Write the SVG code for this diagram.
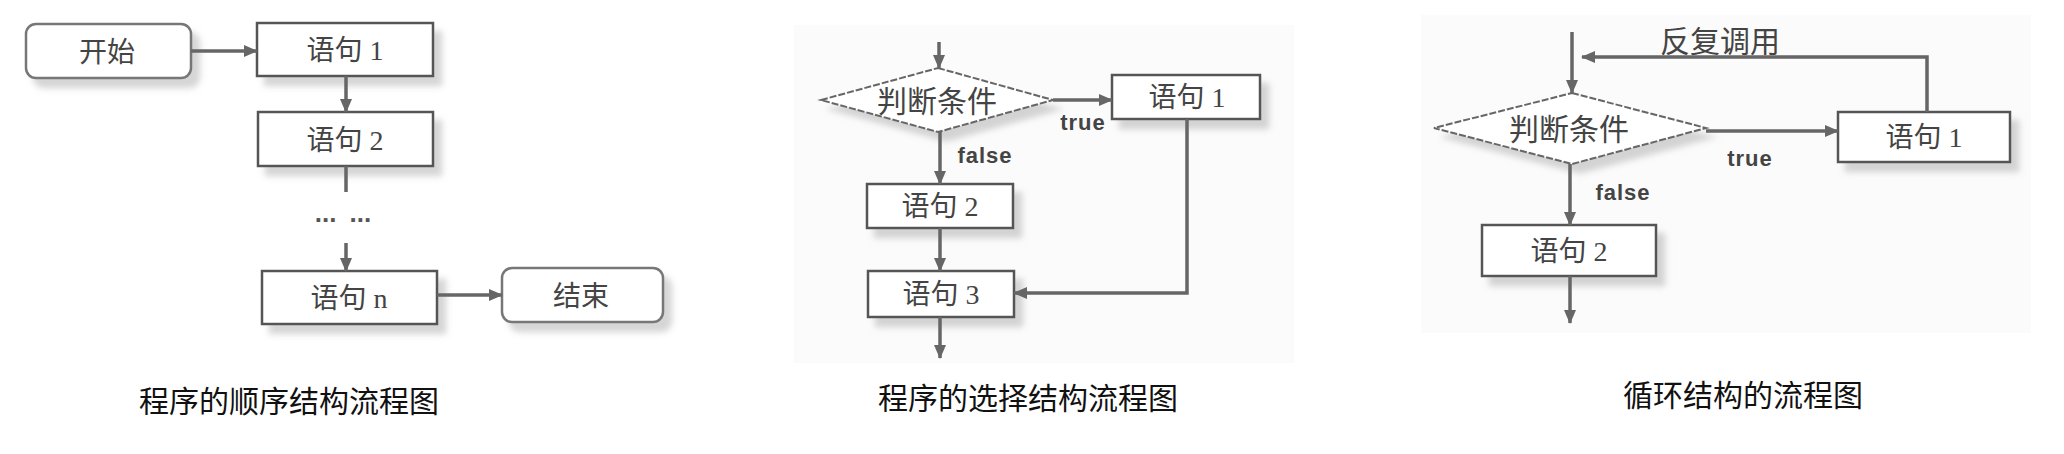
<svg xmlns="http://www.w3.org/2000/svg" width="2064" height="454" viewBox="0 0 2064 454">
<style>
.box{fill:#fff;stroke:#555;stroke-width:2.5}
.term{fill:#fff;stroke:#777;stroke-width:2.5}
.dia{fill:#fff;stroke:#666;stroke-width:2;stroke-dasharray:7 2}
.t{font-family:"Liberation Serif","Noto Sans CJK SC",serif;font-size:28px;fill:#444;text-anchor:middle;dominant-baseline:central}
.td{font-family:"Liberation Serif","Noto Sans CJK SC",serif;font-size:30px;fill:#444;text-anchor:middle;dominant-baseline:central}
.lbl{font-family:"Liberation Sans",Arial,sans-serif;font-size:22px;font-weight:bold;fill:#444;text-anchor:middle;dominant-baseline:central;letter-spacing:1px}
.cap{font-family:"Noto Sans CJK SC",sans-serif;font-size:30px;fill:#111;text-anchor:middle;dominant-baseline:central}
.ln{fill:none;stroke:#666;stroke-width:3.5}
.arr{marker-end:url(#ah)}
.bg{fill:#fbfbfb}
</style>
<defs>
<marker id="ah" markerUnits="userSpaceOnUse" markerWidth="14" markerHeight="12" refX="13" refY="6" orient="auto">
<path d="M0,0 L14,6 L0,12 z" fill="#666"/>
</marker>
<filter id="sh" x="-10%" y="-20%" width="130%" height="160%">
<feDropShadow dx="8" dy="9" stdDeviation="3" flood-color="#888" flood-opacity="0.35"/>
</filter>
</defs>
<rect width="2064" height="454" fill="#fff"/>
<rect class="bg" x="794" y="25" width="500" height="338"/>
<rect class="bg" x="1421" y="15" width="610" height="318"/>

<!-- Panel 1 -->
<g id="p1-start"><rect class="term" filter="url(#sh)" x="26" y="24" width="165" height="54" rx="10"/><text class="t" x="107" y="52">开始</text></g>
<g id="p1-s1"><rect class="box" filter="url(#sh)" x="257" y="23" width="176" height="53"/><text class="t" x="345" y="50">语句 1</text></g>
<g id="p1-s2"><rect class="box" filter="url(#sh)" x="258" y="112" width="175" height="54"/><text class="t" x="345" y="140">语句 2</text></g>
<g id="p1-dots"><text x="343" y="213" font-family="Liberation Sans,Arial,sans-serif" font-size="26" font-weight="bold" fill="#555" text-anchor="middle" dominant-baseline="central" word-spacing="6">... ...</text></g>
<g id="p1-sn"><rect class="box" filter="url(#sh)" x="262" y="271" width="175" height="53"/><text class="t" x="349" y="298">语句 n</text></g>
<g id="p1-end"><rect class="term" filter="url(#sh)" x="502" y="268" width="161" height="54" rx="10"/><text class="t" x="581" y="296">结束</text></g>
<text class="cap" x="289" y="399">程序的顺序结构流程图</text>

<!-- Panel 2 -->
<g id="p2-cond"><polygon class="dia" filter="url(#sh)" points="938,68 1053,100 938,132 821,100"/><text class="td" x="937" y="101">判断条件</text></g>
<g id="p2-s1"><rect class="box" filter="url(#sh)" x="1112" y="75" width="148" height="44"/><text class="t" x="1187" y="97">语句 1</text></g>
<g id="p2-s2"><rect class="box" filter="url(#sh)" x="867" y="184" width="146" height="44"/><text class="t" x="940" y="206">语句 2</text></g>
<g id="p2-s3"><rect class="box" filter="url(#sh)" x="868" y="271" width="146" height="46"/><text class="t" x="941" y="294">语句 3</text></g>
<text class="lbl" x="1083" y="122">true</text>
<text class="lbl" x="985" y="155">false</text>
<text class="cap" x="1028" y="396">程序的选择结构流程图</text>

<!-- Panel 3 -->
<g id="p3-cond"><polygon class="dia" filter="url(#sh)" points="1572,93 1706,128 1572,164 1434,128"/><text class="td" x="1569" y="129">判断条件</text></g>
<g id="p3-s1"><rect class="box" filter="url(#sh)" x="1838" y="112" width="172" height="50"/><text class="t" x="1924" y="137">语句 1</text></g>
<g id="p3-s2"><rect class="box" filter="url(#sh)" x="1482" y="225" width="174" height="51"/><text class="t" x="1569" y="251">语句 2</text></g>
<text class="td" x="1720" y="41">反复调用</text>
<text class="lbl" x="1750" y="158">true</text>
<text class="lbl" x="1623" y="192">false</text>
<text class="cap" x="1743" y="393">循环结构的流程图</text>

<g id="connectors">
<!-- panel 1 -->
<line class="ln arr" x1="191" y1="51" x2="257" y2="51"/>
<line class="ln arr" x1="346" y1="76" x2="346" y2="112"/>
<line class="ln" x1="346" y1="166" x2="346" y2="192"/>
<line class="ln arr" x1="346" y1="243" x2="346" y2="271"/>
<line class="ln arr" x1="437" y1="295" x2="502" y2="295"/>
<!-- panel 2 -->
<line class="ln arr" x1="939" y1="42" x2="939" y2="68"/>
<line class="ln arr" x1="1053" y1="100" x2="1112" y2="100"/>
<line class="ln arr" x1="940" y1="132" x2="940" y2="184"/>
<line class="ln arr" x1="940" y1="228" x2="940" y2="271"/>
<polyline class="ln arr" points="1187,119 1187,293 1014,293"/>
<line class="ln arr" x1="940" y1="317" x2="940" y2="358"/>
<!-- panel 3 -->
<line class="ln arr" x1="1572" y1="32" x2="1572" y2="93"/>
<polyline class="ln arr" points="1927,112 1927,57 1582,57"/>
<line class="ln arr" x1="1706" y1="131" x2="1838" y2="131"/>
<line class="ln arr" x1="1570" y1="164" x2="1570" y2="225"/>
<line class="ln arr" x1="1570" y1="276" x2="1570" y2="323"/>
</g>
</svg>
